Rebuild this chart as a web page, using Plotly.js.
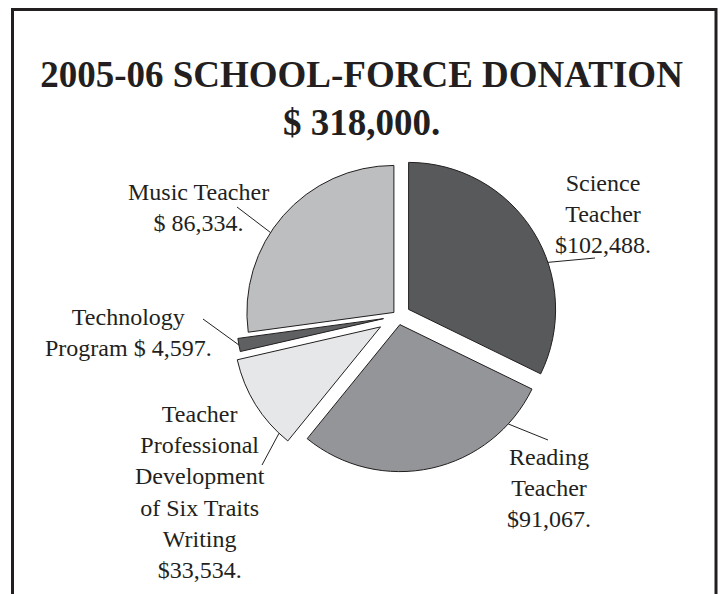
<!DOCTYPE html>
<html>
<head>
<meta charset="utf-8">
<script src="https://cdn.plot.ly/plotly-3.0.1.min.js"></script>
<style>html,body{margin:0;padding:0;background:#fff;}#chart{width:723px;height:594px;}</style>
</head>
<body>
<div id="chart"></div>
<script>
// ---- data ----
const categories = ['Science Teacher', 'Reading Teacher', 'Teacher Professional Development of Six Traits Writing', 'Technology Program', 'Music Teacher'];
const values = [102488, 91067, 33534, 4597, 86334];
const labelTexts = [
  'Science<br>Teacher<br>$102,488.',
  'Reading<br>Teacher<br>$91,067.',
  'Teacher<br>Professional<br>Development<br>of Six Traits<br>Writing<br>$33,534.',
  'Technology<br>Program $ 4,597.',
  'Music Teacher<br>$ 86,334.'
];
const titleLines = ['2005-06 SCHOOL-FORCE DONATION', '$ 318,000.'];

// ---- styling / layout ----
const W = 723, H = 594;
const colors = ['#58595b', '#939598', '#e6e7e8', '#5f6062', '#bcbec0'];
const pulls = [0.085, 0.06, 0.14, 0.10, 0.037];
const pieCx = 398, pieCy = 316, pieR = 147;
const labelPos = [[603, 214], [549, 488], [200, 492], [128, 333], [198, 207]];
const tipFrac = [0.615, 0.16, 0.12, 0.5, 0.416];
const leaderEnd = [[595, 258], [548, 440], [262, 465], [203, 319], [237, 207]];
const ink = '#231f20';
const serif = '"Liberation Serif", "Times New Roman", serif';

const maxPull = Math.max(...pulls);
const half = pieR * (1 + maxPull);
const domain = {
  x: [(pieCx - half) / W, (pieCx + half) / W],
  y: [(H - pieCy - half) / H, (H - pieCy + half) / H]
};

const total = values.reduce((a, b) => a + b, 0);
const rad = d => d * Math.PI / 180;
const px = x => x / W, py = y => 1 - y / H;

const shapes = [];
const annotations = [];
let cum = 0;
values.forEach((v, i) => {
  const a0 = cum / total * 360;
  cum += v;
  const a1 = cum / total * 360;
  const mid = (a0 + a1) / 2;
  const ax = pieCx + pulls[i] * pieR * Math.sin(rad(mid));
  const ay = pieCy - pulls[i] * pieR * Math.cos(rad(mid));
  const t = a0 + tipFrac[i] * (a1 - a0);
  const tx = ax + pieR * Math.sin(rad(t));
  const ty = ay - pieR * Math.cos(rad(t));
  shapes.push({type: 'line', xref: 'paper', yref: 'paper',
    x0: px(tx), y0: py(ty), x1: px(leaderEnd[i][0]), y1: py(leaderEnd[i][1]),
    line: {color: ink, width: 1}});
  annotations.push({xref: 'paper', yref: 'paper', x: px(labelPos[i][0]), y: py(labelPos[i][1]),
    xanchor: 'center', yanchor: 'middle', align: 'center', showarrow: false,
    text: labelTexts[i], font: {family: serif, size: 24, color: ink}});
});

// frame around the chart (open at the bottom)
shapes.push({type: 'rect', xref: 'paper', yref: 'paper',
  x0: px(12.5), x1: px(716), y0: -0.1, y1: py(9.5),
  line: {color: ink, width: 3}, fillcolor: 'rgba(0,0,0,0)'});

const trace = {
  type: 'pie',
  labels: categories,
  values: values,
  sort: false,
  direction: 'clockwise',
  rotation: 0,
  pull: pulls,
  domain: domain,
  textinfo: 'none',
  hoverinfo: 'none',
  showlegend: false,
  marker: {colors: colors, line: {color: ink, width: 1}}
};

const layout = {
  width: W, height: H,
  margin: {l: 0, r: 0, t: 0, b: 0},
  paper_bgcolor: '#ffffff',
  plot_bgcolor: '#ffffff',
  title: {
    text: '<b>' + titleLines[0] + '</b><br><b>' + titleLines[1] + '</b>',
    x: 0.5, xanchor: 'center', xref: 'paper',
    y: 1 - 87 / H, yanchor: 'middle', yref: 'container',
    font: {family: serif, size: 37, color: ink}
  },
  showlegend: false,
  shapes: shapes,
  annotations: annotations
};

Plotly.newPlot('chart', [trace], layout, {displayModeBar: false, staticPlot: true});
</script>
</body>
</html>
